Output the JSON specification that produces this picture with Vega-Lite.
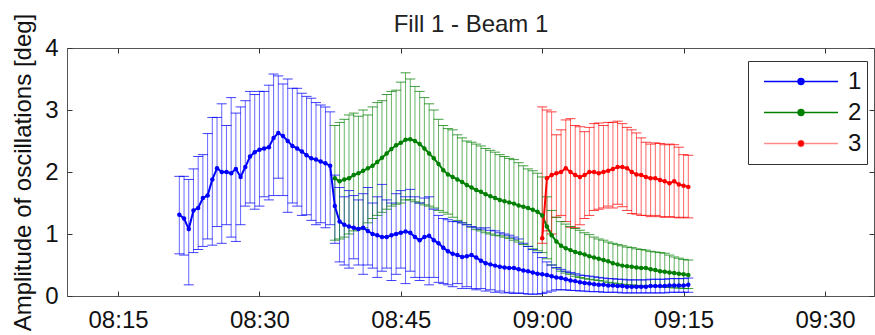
{
"$schema": "https://vega.github.io/schema/vega-lite/v6.json",
"width": 807,
"height": 248,
"autosize": "none",
"padding": {"left": 67, "top": 48, "right": 1, "bottom": 39},
"background": "white",
"data": {"format": {"parse": {"t": "date:'%H:%M:%S'"}}, "values": [
{"s":"1","t":"08:21:30","m":1.31,"lo":0.68,"hi":1.93},
{"s":"1","t":"08:22:00","m":1.25,"lo":0.66,"hi":1.93},
{"s":"1","t":"08:22:30","m":1.08,"lo":0.18,"hi":1.88},
{"s":"1","t":"08:23:00","m":1.38,"lo":0.7,"hi":2.05},
{"s":"1","t":"08:23:30","m":1.42,"lo":0.75,"hi":2.25},
{"s":"1","t":"08:24:00","m":1.58,"lo":0.8,"hi":2.28},
{"s":"1","t":"08:24:30","m":1.62,"lo":0.92,"hi":2.62},
{"s":"1","t":"08:25:00","m":1.88,"lo":0.82,"hi":2.88},
{"s":"1","t":"08:25:30","m":2.06,"lo":1.12,"hi":2.88},
{"s":"1","t":"08:26:00","m":2.0,"lo":0.85,"hi":3.1},
{"s":"1","t":"08:26:30","m":2.0,"lo":1.15,"hi":2.75},
{"s":"1","t":"08:27:00","m":1.98,"lo":0.95,"hi":3.2},
{"s":"1","t":"08:27:30","m":2.05,"lo":0.88,"hi":2.95},
{"s":"1","t":"08:28:00","m":1.92,"lo":1.15,"hi":3.05},
{"s":"1","t":"08:28:30","m":2.08,"lo":1.45,"hi":3.15},
{"s":"1","t":"08:29:00","m":2.25,"lo":1.5,"hi":3.3},
{"s":"1","t":"08:29:30","m":2.32,"lo":1.4,"hi":3.25},
{"s":"1","t":"08:30:00","m":2.36,"lo":1.45,"hi":3.3},
{"s":"1","t":"08:30:30","m":2.38,"lo":1.6,"hi":3.3},
{"s":"1","t":"08:31:00","m":2.4,"lo":1.55,"hi":3.4},
{"s":"1","t":"08:31:30","m":2.55,"lo":1.62,"hi":3.58},
{"s":"1","t":"08:32:00","m":2.63,"lo":1.9,"hi":3.55},
{"s":"1","t":"08:32:30","m":2.58,"lo":1.62,"hi":3.42},
{"s":"1","t":"08:33:00","m":2.5,"lo":1.35,"hi":3.5},
{"s":"1","t":"08:33:30","m":2.42,"lo":1.5,"hi":3.35},
{"s":"1","t":"08:34:00","m":2.38,"lo":1.45,"hi":3.35},
{"s":"1","t":"08:34:30","m":2.33,"lo":1.3,"hi":3.27},
{"s":"1","t":"08:35:00","m":2.27,"lo":1.31,"hi":3.22},
{"s":"1","t":"08:35:30","m":2.22,"lo":1.22,"hi":3.19},
{"s":"1","t":"08:36:00","m":2.2,"lo":1.15,"hi":3.12},
{"s":"1","t":"08:36:30","m":2.17,"lo":1.18,"hi":3.08},
{"s":"1","t":"08:37:00","m":2.14,"lo":1.1,"hi":3.05},
{"s":"1","t":"08:37:30","m":2.1,"lo":1.15,"hi":2.97},
{"s":"1","t":"08:38:00","m":1.45,"lo":0.85,"hi":1.95},
{"s":"1","t":"08:38:30","m":1.2,"lo":0.55,"hi":1.75},
{"s":"1","t":"08:39:00","m":1.15,"lo":0.5,"hi":1.6},
{"s":"1","t":"08:39:30","m":1.12,"lo":0.45,"hi":1.7},
{"s":"1","t":"08:40:00","m":1.1,"lo":0.6,"hi":1.62},
{"s":"1","t":"08:40:30","m":1.08,"lo":0.5,"hi":1.55},
{"s":"1","t":"08:41:00","m":1.1,"lo":0.35,"hi":1.65},
{"s":"1","t":"08:41:30","m":1.05,"lo":0.5,"hi":1.75},
{"s":"1","t":"08:42:00","m":1.0,"lo":0.45,"hi":1.5},
{"s":"1","t":"08:42:30","m":0.98,"lo":0.3,"hi":1.6},
{"s":"1","t":"08:43:00","m":0.95,"lo":0.4,"hi":1.8},
{"s":"1","t":"08:43:30","m":0.95,"lo":0.45,"hi":1.55},
{"s":"1","t":"08:44:00","m":0.98,"lo":0.25,"hi":1.5},
{"s":"1","t":"08:44:30","m":1.0,"lo":0.35,"hi":1.65},
{"s":"1","t":"08:45:00","m":1.02,"lo":0.45,"hi":1.7},
{"s":"1","t":"08:45:30","m":1.04,"lo":0.2,"hi":1.6},
{"s":"1","t":"08:46:00","m":1.02,"lo":0.4,"hi":1.72},
{"s":"1","t":"08:46:30","m":0.95,"lo":0.3,"hi":1.6},
{"s":"1","t":"08:47:00","m":0.9,"lo":0.25,"hi":1.5},
{"s":"1","t":"08:47:30","m":0.95,"lo":0.3,"hi":1.58},
{"s":"1","t":"08:48:00","m":0.97,"lo":0.18,"hi":1.6},
{"s":"1","t":"08:48:30","m":0.9,"lo":0.3,"hi":1.4},
{"s":"1","t":"08:49:00","m":0.85,"lo":0.22,"hi":1.3},
{"s":"1","t":"08:49:30","m":0.78,"lo":0.2,"hi":1.25},
{"s":"1","t":"08:50:00","m":0.72,"lo":0.18,"hi":1.23},
{"s":"1","t":"08:50:30","m":0.68,"lo":0.15,"hi":1.2},
{"s":"1","t":"08:51:00","m":0.66,"lo":0.2,"hi":1.2},
{"s":"1","t":"08:51:30","m":0.63,"lo":0.12,"hi":1.18},
{"s":"1","t":"08:52:00","m":0.64,"lo":0.15,"hi":1.15},
{"s":"1","t":"08:52:30","m":0.66,"lo":0.12,"hi":1.12},
{"s":"1","t":"08:53:00","m":0.62,"lo":0.1,"hi":1.1},
{"s":"1","t":"08:53:30","m":0.57,"lo":0.12,"hi":1.08},
{"s":"1","t":"08:54:00","m":0.53,"lo":0.08,"hi":1.1},
{"s":"1","t":"08:54:30","m":0.51,"lo":0.1,"hi":1.06},
{"s":"1","t":"08:55:00","m":0.49,"lo":0.06,"hi":1.05},
{"s":"1","t":"08:55:30","m":0.47,"lo":0.08,"hi":1.02},
{"s":"1","t":"08:56:00","m":0.46,"lo":0.05,"hi":1.0},
{"s":"1","t":"08:56:30","m":0.45,"lo":0.06,"hi":0.98},
{"s":"1","t":"08:57:00","m":0.45,"lo":0.04,"hi":0.95},
{"s":"1","t":"08:57:30","m":0.43,"lo":0.05,"hi":0.92},
{"s":"1","t":"08:58:00","m":0.41,"lo":0.04,"hi":0.85},
{"s":"1","t":"08:58:30","m":0.4,"lo":0.03,"hi":0.8},
{"s":"1","t":"08:59:00","m":0.38,"lo":0.03,"hi":0.75},
{"s":"1","t":"08:59:30","m":0.36,"lo":0.03,"hi":0.7},
{"s":"1","t":"09:00:00","m":0.35,"lo":0.04,"hi":0.62},
{"s":"1","t":"09:00:30","m":0.34,"lo":0.06,"hi":0.55},
{"s":"1","t":"09:01:00","m":0.32,"lo":0.08,"hi":0.5},
{"s":"1","t":"09:01:30","m":0.3,"lo":0.1,"hi":0.46},
{"s":"1","t":"09:02:00","m":0.29,"lo":0.1,"hi":0.43},
{"s":"1","t":"09:02:30","m":0.27,"lo":0.1,"hi":0.4},
{"s":"1","t":"09:03:00","m":0.25,"lo":0.09,"hi":0.38},
{"s":"1","t":"09:03:30","m":0.24,"lo":0.09,"hi":0.36},
{"s":"1","t":"09:04:00","m":0.22,"lo":0.08,"hi":0.34},
{"s":"1","t":"09:04:30","m":0.21,"lo":0.08,"hi":0.33},
{"s":"1","t":"09:05:00","m":0.2,"lo":0.07,"hi":0.32},
{"s":"1","t":"09:05:30","m":0.19,"lo":0.07,"hi":0.31},
{"s":"1","t":"09:06:00","m":0.18,"lo":0.07,"hi":0.3},
{"s":"1","t":"09:06:30","m":0.18,"lo":0.06,"hi":0.29},
{"s":"1","t":"09:07:00","m":0.17,"lo":0.06,"hi":0.28},
{"s":"1","t":"09:07:30","m":0.17,"lo":0.06,"hi":0.28},
{"s":"1","t":"09:08:00","m":0.16,"lo":0.06,"hi":0.27},
{"s":"1","t":"09:08:30","m":0.16,"lo":0.05,"hi":0.27},
{"s":"1","t":"09:09:00","m":0.15,"lo":0.05,"hi":0.26},
{"s":"1","t":"09:09:30","m":0.15,"lo":0.05,"hi":0.26},
{"s":"1","t":"09:10:00","m":0.15,"lo":0.05,"hi":0.26},
{"s":"1","t":"09:10:30","m":0.15,"lo":0.05,"hi":0.26},
{"s":"1","t":"09:11:00","m":0.15,"lo":0.05,"hi":0.26},
{"s":"1","t":"09:11:30","m":0.16,"lo":0.05,"hi":0.27},
{"s":"1","t":"09:12:00","m":0.16,"lo":0.05,"hi":0.27},
{"s":"1","t":"09:12:30","m":0.16,"lo":0.05,"hi":0.27},
{"s":"1","t":"09:13:00","m":0.16,"lo":0.05,"hi":0.27},
{"s":"1","t":"09:13:30","m":0.17,"lo":0.06,"hi":0.28},
{"s":"1","t":"09:14:00","m":0.17,"lo":0.06,"hi":0.28},
{"s":"1","t":"09:14:30","m":0.17,"lo":0.06,"hi":0.28},
{"s":"1","t":"09:15:00","m":0.17,"lo":0.06,"hi":0.28},
{"s":"1","t":"09:15:30","m":0.18,"lo":0.06,"hi":0.29},
{"s":"2","t":"08:38:00","m":1.9,"lo":0.9,"hi":2.75},
{"s":"2","t":"08:38:30","m":1.85,"lo":0.92,"hi":2.8},
{"s":"2","t":"08:39:00","m":1.88,"lo":0.95,"hi":2.85},
{"s":"2","t":"08:39:30","m":1.9,"lo":1.0,"hi":2.92},
{"s":"2","t":"08:40:00","m":1.95,"lo":1.05,"hi":2.95},
{"s":"2","t":"08:40:30","m":1.98,"lo":1.07,"hi":2.9},
{"s":"2","t":"08:41:00","m":2.02,"lo":1.1,"hi":3.0},
{"s":"2","t":"08:41:30","m":2.06,"lo":1.18,"hi":2.92},
{"s":"2","t":"08:42:00","m":2.1,"lo":1.25,"hi":3.05},
{"s":"2","t":"08:42:30","m":2.16,"lo":1.3,"hi":3.12},
{"s":"2","t":"08:43:00","m":2.23,"lo":1.35,"hi":3.15},
{"s":"2","t":"08:43:30","m":2.3,"lo":1.4,"hi":3.25},
{"s":"2","t":"08:44:00","m":2.37,"lo":1.45,"hi":3.3},
{"s":"2","t":"08:44:30","m":2.43,"lo":1.48,"hi":3.32},
{"s":"2","t":"08:45:00","m":2.47,"lo":1.5,"hi":3.45},
{"s":"2","t":"08:45:30","m":2.52,"lo":1.55,"hi":3.6},
{"s":"2","t":"08:46:00","m":2.53,"lo":1.55,"hi":3.5},
{"s":"2","t":"08:46:30","m":2.5,"lo":1.52,"hi":3.38},
{"s":"2","t":"08:47:00","m":2.45,"lo":1.5,"hi":3.3},
{"s":"2","t":"08:47:30","m":2.38,"lo":1.47,"hi":3.2},
{"s":"2","t":"08:48:00","m":2.3,"lo":1.45,"hi":3.1},
{"s":"2","t":"08:48:30","m":2.22,"lo":1.42,"hi":3.0},
{"s":"2","t":"08:49:00","m":2.13,"lo":1.38,"hi":2.85},
{"s":"2","t":"08:49:30","m":2.03,"lo":1.35,"hi":2.75},
{"s":"2","t":"08:50:00","m":1.96,"lo":1.32,"hi":2.7},
{"s":"2","t":"08:50:30","m":1.92,"lo":1.27,"hi":2.68},
{"s":"2","t":"08:51:00","m":1.88,"lo":1.22,"hi":2.6},
{"s":"2","t":"08:51:30","m":1.84,"lo":1.18,"hi":2.55},
{"s":"2","t":"08:52:00","m":1.79,"lo":1.15,"hi":2.5},
{"s":"2","t":"08:52:30","m":1.75,"lo":1.11,"hi":2.48},
{"s":"2","t":"08:53:00","m":1.71,"lo":1.07,"hi":2.45},
{"s":"2","t":"08:53:30","m":1.68,"lo":1.05,"hi":2.42},
{"s":"2","t":"08:54:00","m":1.64,"lo":1.02,"hi":2.38},
{"s":"2","t":"08:54:30","m":1.61,"lo":1.0,"hi":2.35},
{"s":"2","t":"08:55:00","m":1.58,"lo":0.98,"hi":2.32},
{"s":"2","t":"08:55:30","m":1.55,"lo":0.97,"hi":2.28},
{"s":"2","t":"08:56:00","m":1.53,"lo":0.95,"hi":2.25},
{"s":"2","t":"08:56:30","m":1.51,"lo":0.93,"hi":2.22},
{"s":"2","t":"08:57:00","m":1.49,"lo":0.9,"hi":2.2},
{"s":"2","t":"08:57:30","m":1.46,"lo":0.87,"hi":2.15},
{"s":"2","t":"08:58:00","m":1.44,"lo":0.83,"hi":2.1},
{"s":"2","t":"08:58:30","m":1.42,"lo":0.8,"hi":2.05},
{"s":"2","t":"08:59:00","m":1.39,"lo":0.76,"hi":2.02},
{"s":"2","t":"08:59:30","m":1.36,"lo":0.73,"hi":1.98},
{"s":"2","t":"09:00:00","m":1.3,"lo":0.7,"hi":1.92},
{"s":"2","t":"09:00:30","m":1.12,"lo":0.6,"hi":1.6},
{"s":"2","t":"09:01:00","m":0.98,"lo":0.5,"hi":1.38},
{"s":"2","t":"09:01:30","m":0.88,"lo":0.45,"hi":1.27},
{"s":"2","t":"09:02:00","m":0.81,"lo":0.4,"hi":1.2},
{"s":"2","t":"09:02:30","m":0.77,"lo":0.37,"hi":1.16},
{"s":"2","t":"09:03:00","m":0.74,"lo":0.35,"hi":1.12},
{"s":"2","t":"09:03:30","m":0.71,"lo":0.32,"hi":1.09},
{"s":"2","t":"09:04:00","m":0.69,"lo":0.3,"hi":1.06},
{"s":"2","t":"09:04:30","m":0.67,"lo":0.28,"hi":1.02},
{"s":"2","t":"09:05:00","m":0.64,"lo":0.27,"hi":0.99},
{"s":"2","t":"09:05:30","m":0.62,"lo":0.26,"hi":0.95},
{"s":"2","t":"09:06:00","m":0.6,"lo":0.25,"hi":0.92},
{"s":"2","t":"09:06:30","m":0.58,"lo":0.24,"hi":0.9},
{"s":"2","t":"09:07:00","m":0.56,"lo":0.22,"hi":0.87},
{"s":"2","t":"09:07:30","m":0.53,"lo":0.21,"hi":0.85},
{"s":"2","t":"09:08:00","m":0.51,"lo":0.2,"hi":0.83},
{"s":"2","t":"09:08:30","m":0.49,"lo":0.19,"hi":0.81},
{"s":"2","t":"09:09:00","m":0.48,"lo":0.18,"hi":0.79},
{"s":"2","t":"09:09:30","m":0.47,"lo":0.18,"hi":0.78},
{"s":"2","t":"09:10:00","m":0.46,"lo":0.17,"hi":0.76},
{"s":"2","t":"09:10:30","m":0.45,"lo":0.17,"hi":0.75},
{"s":"2","t":"09:11:00","m":0.45,"lo":0.16,"hi":0.74},
{"s":"2","t":"09:11:30","m":0.43,"lo":0.16,"hi":0.72},
{"s":"2","t":"09:12:00","m":0.42,"lo":0.15,"hi":0.71},
{"s":"2","t":"09:12:30","m":0.4,"lo":0.15,"hi":0.7},
{"s":"2","t":"09:13:00","m":0.39,"lo":0.14,"hi":0.69},
{"s":"2","t":"09:13:30","m":0.38,"lo":0.14,"hi":0.66},
{"s":"2","t":"09:14:00","m":0.37,"lo":0.13,"hi":0.63},
{"s":"2","t":"09:14:30","m":0.36,"lo":0.13,"hi":0.61},
{"s":"2","t":"09:15:00","m":0.35,"lo":0.12,"hi":0.59},
{"s":"2","t":"09:15:30","m":0.34,"lo":0.12,"hi":0.58},
{"s":"3","t":"09:00:00","m":0.93,"lo":0.85,"hi":3.05},
{"s":"3","t":"09:00:30","m":1.9,"lo":1.05,"hi":3.0},
{"s":"3","t":"09:01:00","m":1.95,"lo":1.0,"hi":2.97},
{"s":"3","t":"09:01:30","m":1.98,"lo":1.27,"hi":2.6},
{"s":"3","t":"09:02:00","m":2.0,"lo":1.3,"hi":2.68},
{"s":"3","t":"09:02:30","m":2.06,"lo":1.2,"hi":2.84},
{"s":"3","t":"09:03:00","m":2.0,"lo":1.11,"hi":2.86},
{"s":"3","t":"09:03:30","m":1.95,"lo":1.1,"hi":2.75},
{"s":"3","t":"09:04:00","m":1.92,"lo":1.15,"hi":2.73},
{"s":"3","t":"09:04:30","m":1.95,"lo":1.25,"hi":2.65},
{"s":"3","t":"09:05:00","m":2.0,"lo":1.3,"hi":2.72},
{"s":"3","t":"09:05:30","m":2.0,"lo":1.38,"hi":2.78},
{"s":"3","t":"09:06:00","m":1.98,"lo":1.4,"hi":2.79},
{"s":"3","t":"09:06:30","m":2.0,"lo":1.42,"hi":2.75},
{"s":"3","t":"09:07:00","m":2.02,"lo":1.45,"hi":2.8},
{"s":"3","t":"09:07:30","m":2.05,"lo":1.42,"hi":2.8},
{"s":"3","t":"09:08:00","m":2.08,"lo":1.48,"hi":2.82},
{"s":"3","t":"09:08:30","m":2.08,"lo":1.44,"hi":2.78},
{"s":"3","t":"09:09:00","m":2.06,"lo":1.38,"hi":2.72},
{"s":"3","t":"09:09:30","m":2.0,"lo":1.33,"hi":2.68},
{"s":"3","t":"09:10:00","m":1.96,"lo":1.32,"hi":2.63},
{"s":"3","t":"09:10:30","m":1.95,"lo":1.3,"hi":2.55},
{"s":"3","t":"09:11:00","m":1.92,"lo":1.3,"hi":2.48},
{"s":"3","t":"09:11:30","m":1.9,"lo":1.28,"hi":2.45},
{"s":"3","t":"09:12:00","m":1.9,"lo":1.3,"hi":2.47},
{"s":"3","t":"09:12:30","m":1.87,"lo":1.28,"hi":2.46},
{"s":"3","t":"09:13:00","m":1.85,"lo":1.27,"hi":2.44},
{"s":"3","t":"09:13:30","m":1.82,"lo":1.28,"hi":2.45},
{"s":"3","t":"09:14:00","m":1.85,"lo":1.27,"hi":2.44},
{"s":"3","t":"09:14:30","m":1.8,"lo":1.26,"hi":2.4},
{"s":"3","t":"09:15:00","m":1.78,"lo":1.27,"hi":2.28},
{"s":"3","t":"09:15:30","m":1.76,"lo":1.26,"hi":2.27}
]},
"layer": [
{
"encoding": {
"x": {"field": "t", "type": "temporal", "title": null,
"scale": {"domain": [{"year": 1900, "month": 1, "date": 1, "hours": 8, "minutes": 9, "seconds": 35}, {"year": 1900, "month": 1, "date": 1, "hours": 9, "minutes": 35, "seconds": 12}]},
"axis": {"orient": "bottom", "format": "%H:%M", "labelPadding": 17, "labelFlush": false, "labelOverlap": false,
"values": [{"year": 1900, "month": 1, "date": 1, "hours": 8, "minutes": 15}, {"year": 1900, "month": 1, "date": 1, "hours": 8, "minutes": 30}, {"year": 1900, "month": 1, "date": 1, "hours": 8, "minutes": 45}, {"year": 1900, "month": 1, "date": 1, "hours": 9, "minutes": 0}, {"year": 1900, "month": 1, "date": 1, "hours": 9, "minutes": 15}, {"year": 1900, "month": 1, "date": 1, "hours": 9, "minutes": 30}]}},
"color": {"field": "s", "type": "nominal",
"scale": {"domain": ["1", "2", "3"], "range": ["#0000ff", "#008000", "#ff0000"]},
"legend": {"title": null, "orient": "none", "legendX": 681, "legendY": 13, "padding": 5, "symbolOffset": 10, "labelOffset": 9, "clipHeight": 31, "rowPadding": 0,
"symbolType": "M-1,0H1M-0.08,0A0.08,0.08,0,1,0,0.08,0A0.08,0.08,0,1,0,-0.08,0Z", "symbolSize": 5476, "symbolStrokeWidth": 1.5,
"labelFontSize": 24, "labelFont": "Liberation Sans", "labelColor": "#111", "strokeColor": "#333", "fillColor": "white", "labelLimit": 60,
"encode": {"symbols": {"update": {"fill": {"scale": "color", "field": "value"}, "stroke": {"scale": "color", "field": "value"}, "opacity": {"value": 1}, "strokeOpacity": [{"test": "datum.value === '3'", "value": 0.45}, {"value": 1}]}}}}}
},
"layer": [
{"mark": {"type": "rule", "strokeWidth": 1, "opacity": 0.6},
"encoding": {"y": {"field": "lo", "type": "quantitative", "scale": {"domain": [0, 4]}, "axis": {"title": "Amplitude of oscillations [deg]", "orient": "left", "values": [0, 1, 2, 3, 4]}}, "y2": {"field": "hi"}}},
{"mark": {"type": "tick", "orient": "horizontal", "size": 10, "thickness": 1, "opacity": 0.75},
"encoding": {"y": {"field": "lo", "type": "quantitative", "scale": {"domain": [0, 4]}, "axis": {"title": "Amplitude of oscillations [deg]", "orient": "left", "values": [0, 1, 2, 3, 4]}}}},
{"mark": {"type": "tick", "orient": "horizontal", "size": 10, "thickness": 1, "opacity": 0.75},
"encoding": {"y": {"field": "hi", "type": "quantitative", "scale": {"domain": [0, 4]}, "axis": {"title": "Amplitude of oscillations [deg]", "orient": "left", "values": [0, 1, 2, 3, 4]}}}},
{"mark": {"type": "line", "strokeWidth": 2},
"encoding": {"y": {"field": "m", "type": "quantitative", "scale": {"domain": [0, 4]}, "axis": {"title": "Amplitude of oscillations [deg]", "orient": "left", "values": [0, 1, 2, 3, 4]}}}},
{"mark": {"type": "point", "filled": true, "size": 20, "opacity": 1},
"encoding": {"y": {"field": "m", "type": "quantitative", "scale": {"domain": [0, 4]}, "axis": {"title": "Amplitude of oscillations [deg]", "orient": "left", "values": [0, 1, 2, 3, 4]}}}}
]
},
{
"mark": {"type": "point", "opacity": 0},
"encoding": {
"x": {"field": "t", "type": "temporal",
"scale": {"domain": [{"year": 1900, "month": 1, "date": 1, "hours": 8, "minutes": 9, "seconds": 35}, {"year": 1900, "month": 1, "date": 1, "hours": 9, "minutes": 35, "seconds": 12}]},
"axis": {"orient": "top", "labels": false, "title": "Fill 1 - Beam 1", "titleFontSize": 24, "titleColor": "#222", "titlePadding": 11,
"values": [{"year": 1900, "month": 1, "date": 1, "hours": 8, "minutes": 15}, {"year": 1900, "month": 1, "date": 1, "hours": 8, "minutes": 30}, {"year": 1900, "month": 1, "date": 1, "hours": 8, "minutes": 45}, {"year": 1900, "month": 1, "date": 1, "hours": 9, "minutes": 0}, {"year": 1900, "month": 1, "date": 1, "hours": 9, "minutes": 15}, {"year": 1900, "month": 1, "date": 1, "hours": 9, "minutes": 30}]}},
"y": {"field": "m", "type": "quantitative", "scale": {"domain": [0, 4]}, "axis": {"orient": "right", "labels": false, "title": null, "values": [0, 1, 2, 3, 4]}}
}
}
],
"resolve": {"axis": {"x": "independent", "y": "independent"}},
"config": {
"view": {"stroke": "#555", "strokeWidth": 1},
"axis": {"domain": false, "grid": false, "tickColor": "#333", "tickSize": -5, "labelFont": "Liberation Sans", "labelFontSize": 24, "labelColor": "#111", "titleFont": "Liberation Sans", "titleFontSize": 24, "titleFontWeight": "normal", "titleColor": "#111"},
"axisY": {"labelPadding": 14, "titlePadding": 9}
}
}
